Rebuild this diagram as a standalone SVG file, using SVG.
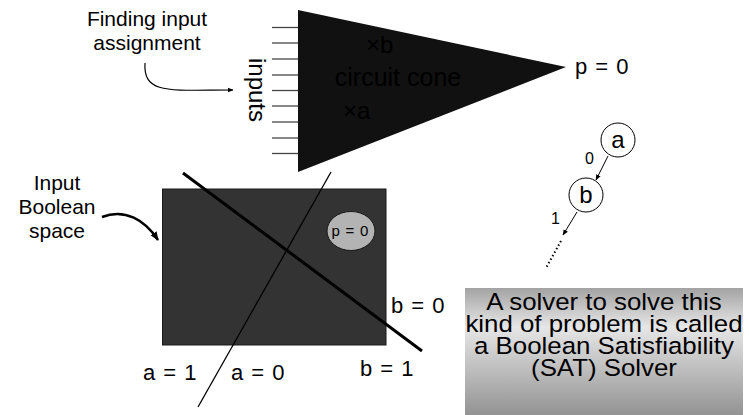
<svg xmlns="http://www.w3.org/2000/svg" width="749" height="415" viewBox="0 0 749 415">
<defs>
<style>
text{font-family:"Liberation Sans",Arial,sans-serif;fill:#000}
.lbl{font-size:21px}
.eq{font-size:22px;word-spacing:2px}
.mid{text-anchor:middle}
.inp{stroke:#444;stroke-width:1.3}
.conn{fill:none;stroke:#000}
.sat{font-size:23.5px;text-anchor:middle}
</style>
<marker id="ah" viewBox="0 0 10 10" refX="9" refY="5" markerWidth="6" markerHeight="6" orient="auto" markerUnits="userSpaceOnUse"><path d="M0,1 L10,5 L0,9 z" fill="#000"/></marker>
<marker id="ah2" viewBox="0 0 10 10" refX="9" refY="5" markerWidth="9" markerHeight="9" orient="auto" markerUnits="userSpaceOnUse"><path d="M0,1 L10,5 L0,9 z" fill="#000"/></marker>
<linearGradient id="satg" x1="0" y1="0" x2="0" y2="1">
<stop offset="0" stop-color="#a3a3a3"/>
<stop offset="0.3" stop-color="#e6e6e6"/>
<stop offset="1" stop-color="#909090"/>
</linearGradient>
</defs>

<g id="finding-label">
<text class="lbl mid" x="147" y="26">Finding input</text>
<text class="lbl mid" x="147" y="50">assignment</text>
</g>

<g id="inputs">
<line class="inp" x1="272" y1="27.5" x2="298" y2="27.5"/>
<line class="inp" x1="272" y1="43" x2="298" y2="43"/>
<line class="inp" x1="272" y1="59" x2="298" y2="59"/>
<line class="inp" x1="272" y1="75" x2="298" y2="75"/>
<line class="inp" x1="272" y1="90.5" x2="298" y2="90.5"/>
<line class="inp" x1="272" y1="106" x2="298" y2="106"/>
<line class="inp" x1="272" y1="122" x2="298" y2="122"/>
<line class="inp" x1="272" y1="138" x2="298" y2="138"/>
<line class="inp" x1="272" y1="153.5" x2="298" y2="153.5"/>
<text class="mid" font-size="24" transform="translate(249,90) rotate(90)" x="0" y="0">inputs</text>
</g>

<g id="cone">
<polygon points="298,10 566,67 298,172" fill="#111"/>
<text font-size="24" x="366" y="53">×b</text>
<text font-size="25" x="398" y="86" class="mid">circuit cone</text>
<text font-size="24" x="343" y="119">×a</text>
</g>

<g id="p-out">
<text class="eq" x="575" y="74">p = 0</text>
</g>

<g id="boolean-label">
<text class="lbl mid" x="57" y="190">Input</text>
<text class="lbl mid" x="57" y="214">Boolean</text>
<text class="lbl mid" x="57" y="238">space</text>
</g>

<g id="space">
<rect x="162.5" y="189" width="223.5" height="156" fill="#333" stroke="#1a1a1a" stroke-width="1"/>
</g>

<g id="p0-region">
<ellipse cx="351" cy="231" rx="24" ry="19.5" fill="#b3b3b3" stroke="#1a1a1a" stroke-width="1"/>
<text class="mid" font-size="15" word-spacing="1.5" x="350" y="236">p = 0</text>
</g>

<g id="tree-a">
<circle cx="618" cy="140" r="17" fill="#fff" stroke="#000" stroke-width="1"/>
<text class="mid" font-size="24" x="618" y="148">a</text>
</g>
<g id="tree-b">
<circle cx="586" cy="195" r="17" fill="#fff" stroke="#000" stroke-width="1"/>
<text class="mid" font-size="24" x="586" y="203">b</text>
</g>

<g id="sat-box">
<rect x="465" y="288" width="278" height="130" fill="url(#satg)"/>
<text class="sat" transform="translate(604,310) scale(1.1,1)">A solver to solve this</text>
<text class="sat" transform="translate(604,332) scale(1.1,1)">kind of problem is called</text>
<text class="sat" transform="translate(604,354) scale(1.1,1)">a Boolean Satisfiability</text>
<text class="sat" transform="translate(604,376) scale(1.1,1)">(SAT) Solver</text>
</g>

<g id="connectors">
<path class="conn" d="M145,63 C143,95 170,90 233,90" stroke-width="1.2" marker-end="url(#ah)"/>
<path class="conn" d="M102,217 C125,208 145,220 158,240" stroke-width="2.5" marker-end="url(#ah2)"/>
<line class="conn" x1="183" y1="173" x2="422" y2="351" stroke-width="3"/>
<line class="conn" x1="331" y1="172" x2="198" y2="407" stroke-width="1.3"/>
<line class="conn" x1="608" y1="156" x2="596" y2="180" stroke-width="1" marker-end="url(#ah)"/>
<line class="conn" x1="577" y1="212" x2="563" y2="235" stroke-width="1" marker-end="url(#ah)"/>
<line class="conn" x1="561" y1="241" x2="546" y2="268" stroke-width="2" stroke-dasharray="1.5,2.5"/>
</g>

<g id="line-labels">
<text class="eq" x="391" y="313">b = 0</text>
<text class="eq" x="143" y="380">a = 1</text>
<text class="eq" x="231" y="380">a = 0</text>
<text class="eq" x="360" y="376">b = 1</text>
<text font-size="16" x="585" y="164">0</text>
<text font-size="16" x="551" y="224">1</text>
</g>
</svg>
